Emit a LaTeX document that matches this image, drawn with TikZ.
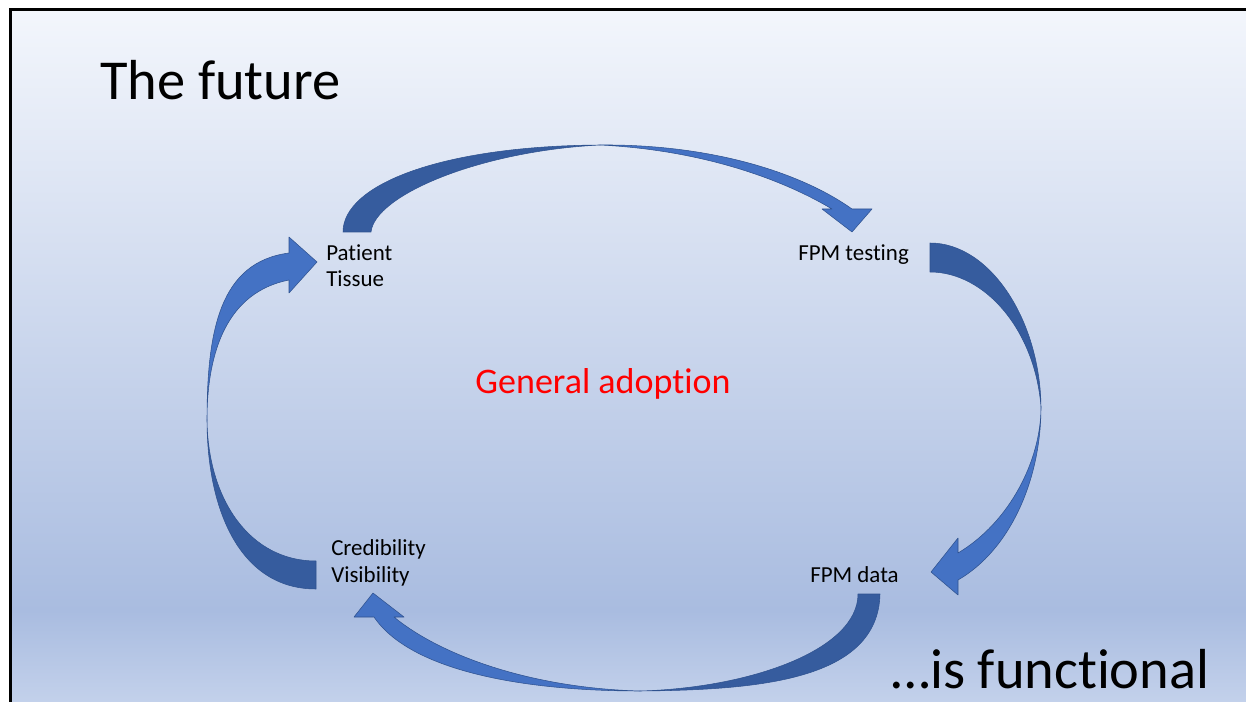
\documentclass[tikz,border=0pt]{standalone}
\usepackage{fontspec}
\setmainfont[Ligatures=NoCommon]{Carlito}

\definecolor{frontblue}{HTML}{4472C4}
\definecolor{backblue}{HTML}{365C9E}
\definecolor{edgeblue}{HTML}{2F528F}
\definecolor{skytop}{HTML}{F3F6FC}
\definecolor{skymid}{HTML}{A9BCE0}
\definecolor{skylow}{HTML}{C3D1EB}
\pgfdeclareverticalshading{slidesky}{100bp}{color(0bp)=(skylow); color(25bp)=(skylow);
  color(31.6bp)=(skymid); color(75bp)=(skytop); color(100bp)=(skytop)}

\tikzstyle{headline} = [inner sep=0pt, anchor=base west, font=\fontsize{42.3}{50}\selectfont]
\tikzstyle{stage} = [inner sep=0pt, anchor=base west, align=left, font=\fontsize{17.2}{20.25}\selectfont]
\tikzstyle{slogan} = [inner sep=0pt, anchor=base, text=red, font=\fontsize{27}{32}\selectfont]
\tikzstyle{front} = [fill=frontblue, draw=edgeblue, line width=0.4pt, line join=round]
\tikzstyle{back} = [fill=backblue, draw=edgeblue, line width=0.4pt, line join=round]

\begin{document}
\begin{tikzpicture}[x=0.75pt, y=-0.75pt]
\useasboundingbox (0,0) rectangle (1246,702);
%slide
\fill[white] (0,0) rectangle (1246,702);
\shade[shading=slidesky] (10,10) rectangle (1246,702);
\draw[line width=2.25pt] (10,702) -- (10,10) -- (1246,10);
%texts
\node[headline] (future) at (100,100) {The future};
\node[headline] (functional) at (891,688) {…is functional};
\node[slogan] (adoption) at (603,393) {General adoption};
\node[stage] (tissue) at (326,287) {Patient\\Tissue};
\node[stage] (testing) at (798,261) {FPM testing};
\node[stage] (data) at (810,582) {FPM data};
\node[stage] (credibility) at (331,582) {Credibility\\Visibility};
%begin tissue-testing
\draw[back] (343,232) .. controls (343,185) and (440,146) .. (600,145)
    .. controls (480,151) and (375,195) .. (371,232) -- cycle;
\draw[front] (600,145) .. controls (710,144) and (800,172) .. (852,209)
    -- (872,209) -- (852,232) -- (822,209) -- (832,209)
    .. controls (780,178) and (700,150) .. (600,145) -- cycle;
%end tissue-testing
%begin testing-data
\draw[back] (930,243) .. controls (990,243) and (1040,320) .. (1041,407)
    .. controls (1035,330) and (985,272) .. (930,272) -- cycle;
\draw[front] (1041,407) .. controls (1041,480) and (1010,550) .. (958,580)
    -- (958,595) -- (931,572) -- (958,538) -- (958,553)
    .. controls (1010,522) and (1041,460) .. (1041,407) -- cycle;
%end testing-data
%begin data-credibility
\draw[back] (880,594) .. controls (878,680) and (760,690) .. (640,691)
    .. controls (750,688) and (858,650) .. (858,594) -- cycle;
\draw[front] (640,691) .. controls (520,691) and (410,670) .. (374,617)
    -- (354,617) -- (373,593) -- (404,617) -- (394,617)
    .. controls (440,655) and (530,688) .. (640,691) -- cycle;
%end data-credibility
%begin credibility-tissue
\draw[back] (316,589) .. controls (240,589) and (207,510) .. (207,420)
    .. controls (208,500) and (250,561) .. (316,561) -- cycle;
\draw[front] (207,420) .. controls (207,330) and (220,262) .. (289,253)
    -- (289,237) -- (317,262) -- (289,293) -- (289,280)
    .. controls (228,292) and (207,350) .. (207,420) -- cycle;
%end credibility-tissue
\end{tikzpicture}
\end{document}
